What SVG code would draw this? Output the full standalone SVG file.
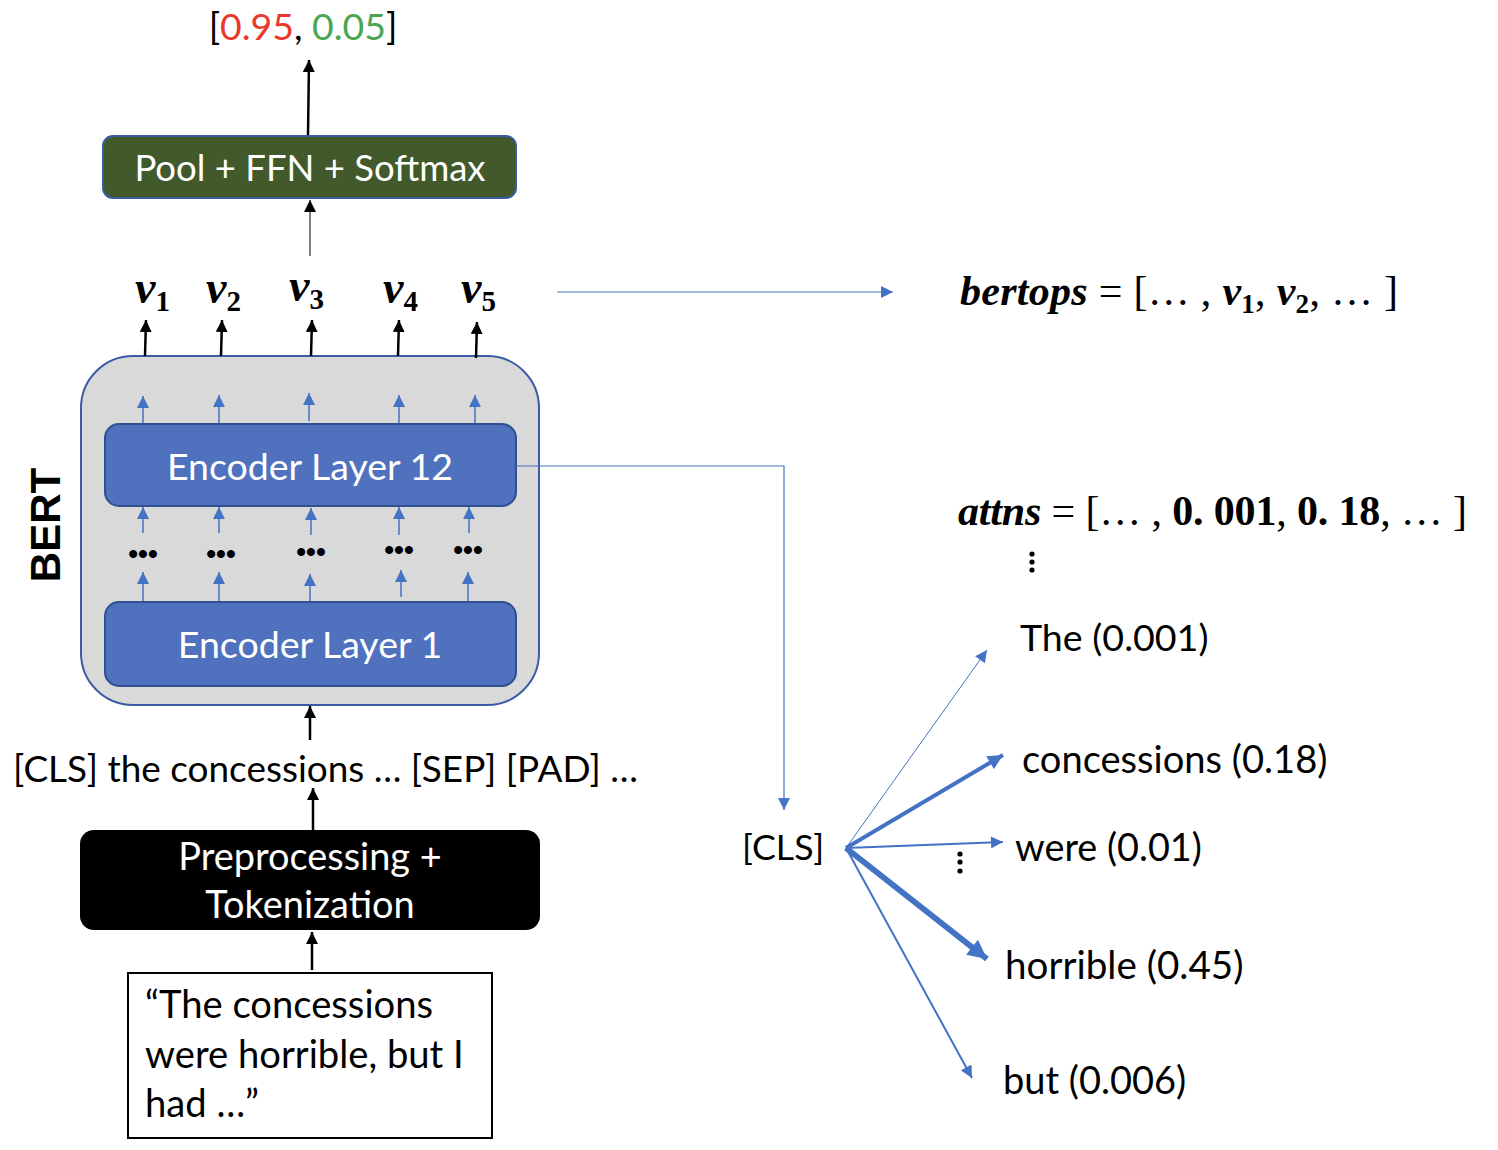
<svg xmlns="http://www.w3.org/2000/svg" width="1498" height="1150" viewBox="0 0 1498 1150">
<style>
.t{font-family:Lato,"Liberation Sans",sans-serif;font-size:37px;fill:#000}
.w{fill:#fff}
.m{font-family:"Liberation Serif",serif;font-size:42px;fill:#000}
.bi{font-weight:bold;font-style:italic}
.b{font-weight:bold}
.sub{font-size:27px;font-weight:bold}
.k{stroke:#000;stroke-width:2.5;fill:none}
.bl{stroke:#4472c4;fill:none}
.v{font-family:"Liberation Serif",serif;font-size:46px;font-weight:bold;font-style:italic}
.vs{font-size:29px;font-style:normal}
.dt{font-family:"Liberation Sans",sans-serif;font-weight:bold;font-size:28px}
</style>
<defs>
<marker id="ak" viewBox="0 0 10 10" refX="10" refY="5" markerUnits="userSpaceOnUse" markerWidth="12" markerHeight="12" orient="auto"><path d="M0,0 L10,5 L0,10 z" fill="#000"/></marker>
<marker id="ab" viewBox="0 0 10 10" refX="10" refY="5" markerUnits="userSpaceOnUse" markerWidth="13" markerHeight="12" orient="auto"><path d="M0,0 L10,5 L0,10 z" fill="#4472c4"/></marker>
<marker id="ab2" viewBox="0 0 10 10" refX="10" refY="5" markerUnits="userSpaceOnUse" markerWidth="17" markerHeight="15" orient="auto"><path d="M0,0 L10,5 L0,10 z" fill="#4472c4"/></marker>
<marker id="ab3" viewBox="0 0 10 10" refX="10" refY="5" markerUnits="userSpaceOnUse" markerWidth="22" markerHeight="19" orient="auto"><path d="M0,0 L10,5 L0,10 z" fill="#4472c4"/></marker>
</defs>

<g id="output">
<text class="t" x="303" y="40" text-anchor="middle" style="font-size:37.4px">[<tspan fill="#e8392b">0.95</tspan>, <tspan fill="#4aa64f">0.05</tspan>]</text>
</g>

<g id="pool">
<rect x="103" y="136" width="413" height="62" rx="10" fill="#425a2b" stroke="#3b5ba5" stroke-width="2"/>
<text class="t w" x="310" y="181" text-anchor="middle" style="font-size:36.5px">Pool + FFN + Softmax</text>
</g>

<g id="vectors">
<text class="v" x="135" y="303">v<tspan class="vs" dy="8">1</tspan></text>
<text class="v" x="206" y="303">v<tspan class="vs" dy="8">2</tspan></text>
<text class="v" x="289" y="301">v<tspan class="vs" dy="8">3</tspan></text>
<text class="v" x="383" y="303">v<tspan class="vs" dy="8">4</tspan></text>
<text class="v" x="461" y="303">v<tspan class="vs" dy="8">5</tspan></text>
</g>

<g id="bertops">
<text class="m" x="960" y="305" textLength="438"><tspan class="bi">bertops</tspan> = [… , <tspan class="bi">v</tspan><tspan class="sub" dy="8">1</tspan><tspan dy="-8">, </tspan><tspan class="bi">v</tspan><tspan class="sub" dy="8">2</tspan><tspan dy="-8">, … ]</tspan></text>
</g>

<g id="bert">
<rect x="81" y="356" width="458" height="349" rx="52" fill="#d9d9d9" stroke="#3b5ba5" stroke-width="2"/>
<text x="45" y="525" transform="rotate(-90 45 525)" text-anchor="middle" dominant-baseline="central" font-family="Liberation Sans,sans-serif" font-weight="bold" font-size="42">BERT</text>
</g>

<g id="enc12">
<rect x="105" y="424" width="411" height="82" rx="14" fill="#4f71be" stroke="#2f4f8f" stroke-width="2"/>
<text class="t w" x="310" y="480" text-anchor="middle" style="font-size:37.5px">Encoder Layer 12</text>
</g>

<g id="enc1">
<rect x="105" y="602" width="411" height="84" rx="14" fill="#4f71be" stroke="#2f4f8f" stroke-width="2"/>
<text class="t w" x="310" y="658" text-anchor="middle" style="font-size:37.5px">Encoder Layer 1</text>
</g>

<g id="dots" fill="#000">
<text class="dt" x="143" y="563" text-anchor="middle">•••</text>
<text class="dt" x="221" y="563" text-anchor="middle">•••</text>
<text class="dt" x="311" y="561" text-anchor="middle">•••</text>
<text class="dt" x="399" y="559" text-anchor="middle">•••</text>
<text class="dt" x="468" y="559" text-anchor="middle">•••</text>
</g>

<g id="tokens">
<text class="t" x="13" y="782" style="font-size:36px" textLength="625" lengthAdjust="spacingAndGlyphs">[CLS] the concessions … [SEP] [PAD] …</text>
</g>

<g id="preproc">
<rect x="80" y="830" width="460" height="100" rx="14" fill="#000"/>
<text class="t w" x="310" y="870" text-anchor="middle" style="font-size:37.9px">Preprocessing +</text>
<text class="t w" x="310" y="918" text-anchor="middle" style="font-size:37.9px">Tokenization</text>
</g>

<g id="input">
<rect x="128" y="973" width="364" height="165" fill="#fff" stroke="#000" stroke-width="2"/>
<text class="t" x="145" y="1018" style="font-size:38.2px">“The concessions</text>
<text class="t" x="145" y="1068" style="font-size:38.2px">were horrible, but I</text>
<text class="t" x="145" y="1117" style="font-size:38.2px">had …”</text>
</g>

<g id="attns">
<text class="m" x="958" y="525" textLength="509"><tspan class="bi">attns</tspan> = [… , <tspan class="b">0. 001</tspan>, <tspan class="b">0. 18</tspan>, … ]</text>
<circle cx="1032" cy="554" r="2.6"/><circle cx="1032" cy="562" r="2.6"/><circle cx="1032" cy="570" r="2.6"/>
</g>

<g id="cls">
<text class="t" x="742" y="860" style="font-size:35.7px">[CLS]</text>
</g>

<g id="words">
<text class="t" x="1020" y="651" style="font-size:37.6px">The (0.001)</text>
<text class="t" x="1022" y="773" style="font-size:38.1px">concessions (0.18)</text>
<text class="t" x="1015" y="861" style="font-size:37.8px">were (0.01)</text>
<text class="t" x="1005" y="979" style="font-size:38.6px">horrible (0.45)</text>
<text class="t" x="1003" y="1094" style="font-size:38px">but (0.006)</text>
<circle cx="960" cy="854" r="2.6"/><circle cx="960" cy="862" r="2.6"/><circle cx="960" cy="871" r="2.6"/>
</g>

<g id="connectors">
<line class="k" x1="308" y1="135" x2="309" y2="60" marker-end="url(#ak)"/>
<line x1="310" y1="256" x2="310" y2="200" stroke="#000" stroke-width="1" marker-end="url(#ak)"/>
<line class="k" x1="145" y1="356" x2="146" y2="320" marker-end="url(#ak)"/>
<line class="k" x1="221" y1="356" x2="222" y2="320" marker-end="url(#ak)"/>
<line class="k" x1="311" y1="356" x2="312" y2="320" marker-end="url(#ak)"/>
<line class="k" x1="398" y1="356" x2="399" y2="320" marker-end="url(#ak)"/>
<line class="k" x1="476" y1="358" x2="477" y2="322" marker-end="url(#ak)"/>
<line class="bl" x1="557" y1="292" x2="893" y2="292" stroke-width="1.2" marker-end="url(#ab)"/>

<g class="bl" stroke-width="1.5">
<line x1="143" y1="423" x2="143" y2="396" marker-end="url(#ab)"/>
<line x1="219" y1="423" x2="219" y2="395" marker-end="url(#ab)"/>
<line x1="309" y1="421" x2="309" y2="393" marker-end="url(#ab)"/>
<line x1="399" y1="423" x2="399" y2="395" marker-end="url(#ab)"/>
<line x1="475" y1="423" x2="475" y2="395" marker-end="url(#ab)"/>
<line x1="143" y1="533" x2="143" y2="507" marker-end="url(#ab)"/>
<line x1="219" y1="533" x2="219" y2="507" marker-end="url(#ab)"/>
<line x1="311" y1="535" x2="311" y2="508" marker-end="url(#ab)"/>
<line x1="399" y1="535" x2="399" y2="507" marker-end="url(#ab)"/>
<line x1="469" y1="533" x2="469" y2="507" marker-end="url(#ab)"/>
<line x1="143" y1="601" x2="143" y2="572" marker-end="url(#ab)"/>
<line x1="219" y1="601" x2="219" y2="572" marker-end="url(#ab)"/>
<line x1="310" y1="601" x2="310" y2="574" marker-end="url(#ab)"/>
<line x1="401" y1="597" x2="401" y2="570" marker-end="url(#ab)"/>
<line x1="468" y1="601" x2="468" y2="572" marker-end="url(#ab)"/>
</g>

<line class="k" x1="310" y1="740" x2="310" y2="706" marker-end="url(#ak)"/>
<line class="k" x1="313" y1="830" x2="313" y2="788" marker-end="url(#ak)"/>
<line class="k" x1="312" y1="970" x2="312" y2="932" marker-end="url(#ak)"/>

<polyline class="bl" points="516,466 784,466 784,810" stroke-width="1.2" marker-end="url(#ab)"/>

<line class="bl" x1="846" y1="848" x2="987" y2="650" stroke-width="1" marker-end="url(#ab)"/>
<line class="bl" x1="846" y1="848" x2="1003" y2="755" stroke-width="4" marker-end="url(#ab2)"/>
<line class="bl" x1="846" y1="848" x2="1003" y2="842" stroke-width="2" marker-end="url(#ab)"/>
<line class="bl" x1="846" y1="848" x2="987" y2="959" stroke-width="6" marker-end="url(#ab3)"/>
<line class="bl" x1="846" y1="848" x2="972" y2="1078" stroke-width="2" marker-end="url(#ab)"/>
</g>
</svg>
